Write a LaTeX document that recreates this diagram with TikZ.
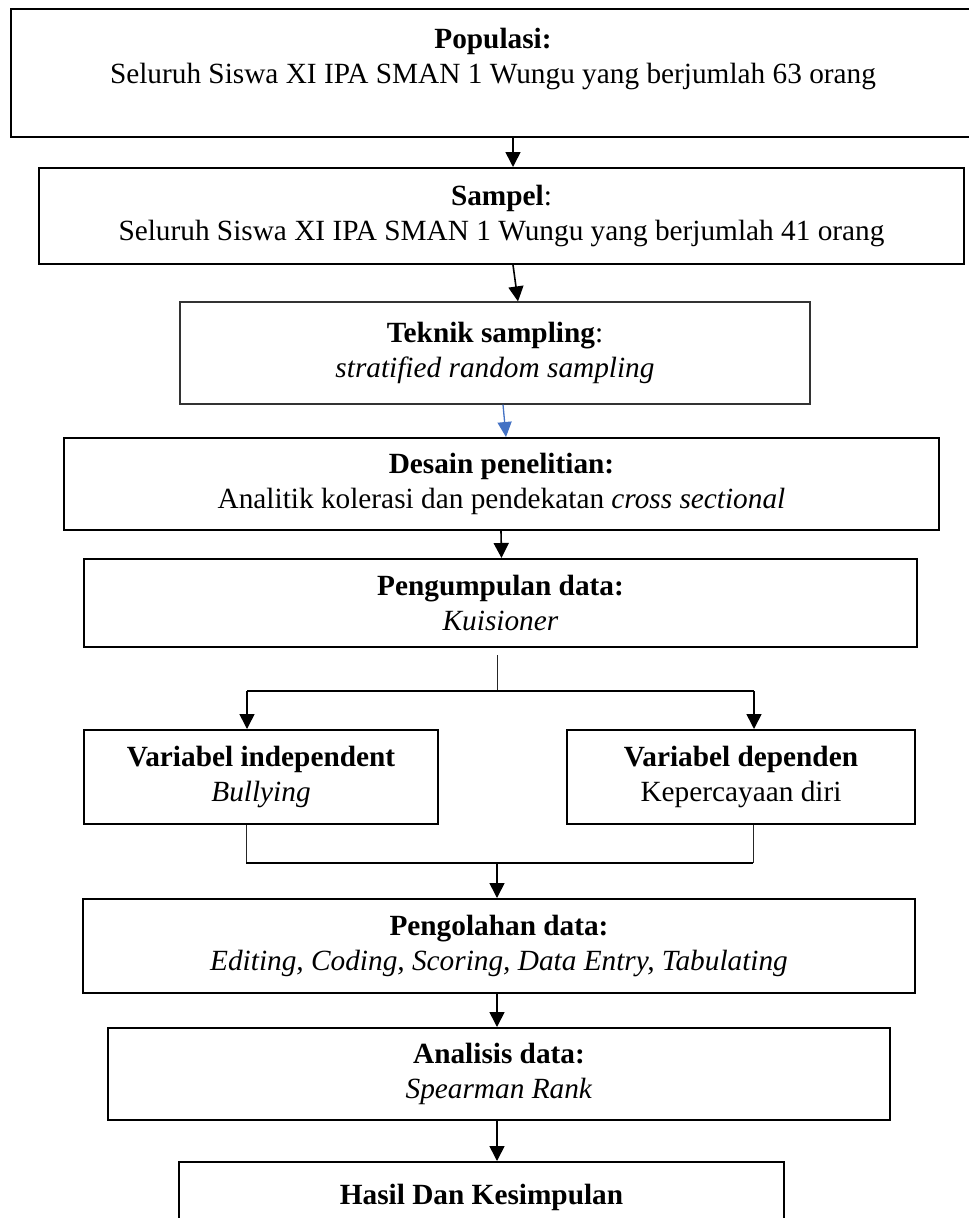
\documentclass[tikz,border=0pt]{standalone}
\usepackage{fontspec}
\setmainfont{Liberation Serif}
\usetikzlibrary{arrows.meta}
\definecolor{wordblue}{HTML}{4472C4}
\tikzset{
  box/.style={draw, line width=2pt, inner sep=0pt, align=center,
    font=\fontsize{29.3}{35}\selectfont},
  thinbox/.style={box, line width=1.2pt, draw=black!80},
  arr/.style={line width=1.6pt, -{Triangle[width=15pt,length=15pt]}},
  barr/.style={line width=1.3pt, draw=wordblue, -{Triangle[width=14pt,length=15pt]}, fill=wordblue},
  conn/.style={line width=1.6pt},
  thinconn/.style={line width=1pt, draw=black!85},
}
\begin{document}
\begin{tikzpicture}[x=1pt,y=-1pt]
\useasboundingbox (0,0) rectangle (969,1218);
\clip (0,0) rectangle (969,1218);
\fill[white] (0,0) rectangle (969,1218);

\node[box, minimum width=964pt, minimum height=128pt] (pop) at (493,73)
  {\textbf{Populasi:}\\Seluruh Siswa XI IPA SMAN 1 Wungu yang berjumlah 63 orang\\\mbox{}};
\node[box, minimum width=925pt, minimum height=96pt] (samp) at (501.5,216)
  {\textbf{Sampel}:\\Seluruh Siswa XI IPA SMAN 1 Wungu yang berjumlah 41 orang};
\node[thinbox, minimum width=630pt, minimum height=102pt] (tek) at (495,353)
  {\textbf{Teknik sampling}:\\\textit{stratified random sampling}};
\node[box, minimum width=875pt, minimum height=92pt] (des) at (501.5,484)
  {\textbf{Desain penelitian:}\\Analitik kolerasi dan pendekatan \textit{cross sectional}};
\node[box, minimum width=833pt, minimum height=88pt] (peng) at (500.5,603)
  {\textbf{Pengumpulan data:}\\\textit{Kuisioner}};
\node[box, minimum width=354pt, minimum height=94pt] (varL) at (261,777)
  {\textbf{Variabel independent}\\\textit{Bullying}};
\node[box, minimum width=348pt, minimum height=94pt] (varR) at (741,777)
  {\textbf{Variabel dependen}\\Kepercayaan diri};
\node[box, minimum width=832pt, minimum height=94pt] (olah) at (499,946)
  {\textbf{Pengolahan data:}\\\textit{Editing, Coding, Scoring, Data Entry, Tabulating}};
\node[box, minimum width=782pt, minimum height=92pt] (anal) at (499,1074)
  {\textbf{Analisis data:}\\\textit{Spearman Rank}};
\node[box, minimum width=605pt, minimum height=100pt, anchor=north] (hasil) at (481.5,1161)
  {\textbf{Hasil Dan Kesimpulan}\\\mbox{}};

\coordinate (s1) at (497,655);
\coordinate (s2) at (497,691);
\coordinate (sL) at (247,691);
\coordinate (sR) at (754,691);
\coordinate (jL) at (246,863);
\coordinate (jR) at (753,863);
\coordinate (jM) at (497,863);

\draw[arr] ([xshift=20pt]pop.south) -- ([xshift=11.5pt]samp.north);
\draw[arr] ([xshift=11.5pt]samp.south) -- ([xshift=23pt]tek.north);
\draw[barr] ([xshift=8pt]tek.south) -- ([xshift=4.5pt]des.north);
\draw[arr] ([xshift=-0.5pt]des.south) -- ([xshift=1pt]peng.north);
\draw[thinconn] (s1) -- (s2);
\draw[conn] (sL) -- (sR);
\draw[arr] (sL) -- ([xshift=-14pt]varL.north);
\draw[arr] (sR) -- ([xshift=13pt]varR.north);
\draw[thinconn] ([xshift=-15pt]varL.south) -- (jL);
\draw[thinconn] ([xshift=12pt]varR.south) -- (jR);
\draw[conn] (jL) -- (jR);
\draw[arr] (jM) -- ([xshift=-2pt]olah.north);
\draw[arr] ([xshift=-2pt]olah.south) -- ([xshift=-2pt]anal.north);
\draw[arr] ([xshift=-2pt]anal.south) -- ([xshift=15.5pt]hasil.north);
\end{tikzpicture}
\end{document}
